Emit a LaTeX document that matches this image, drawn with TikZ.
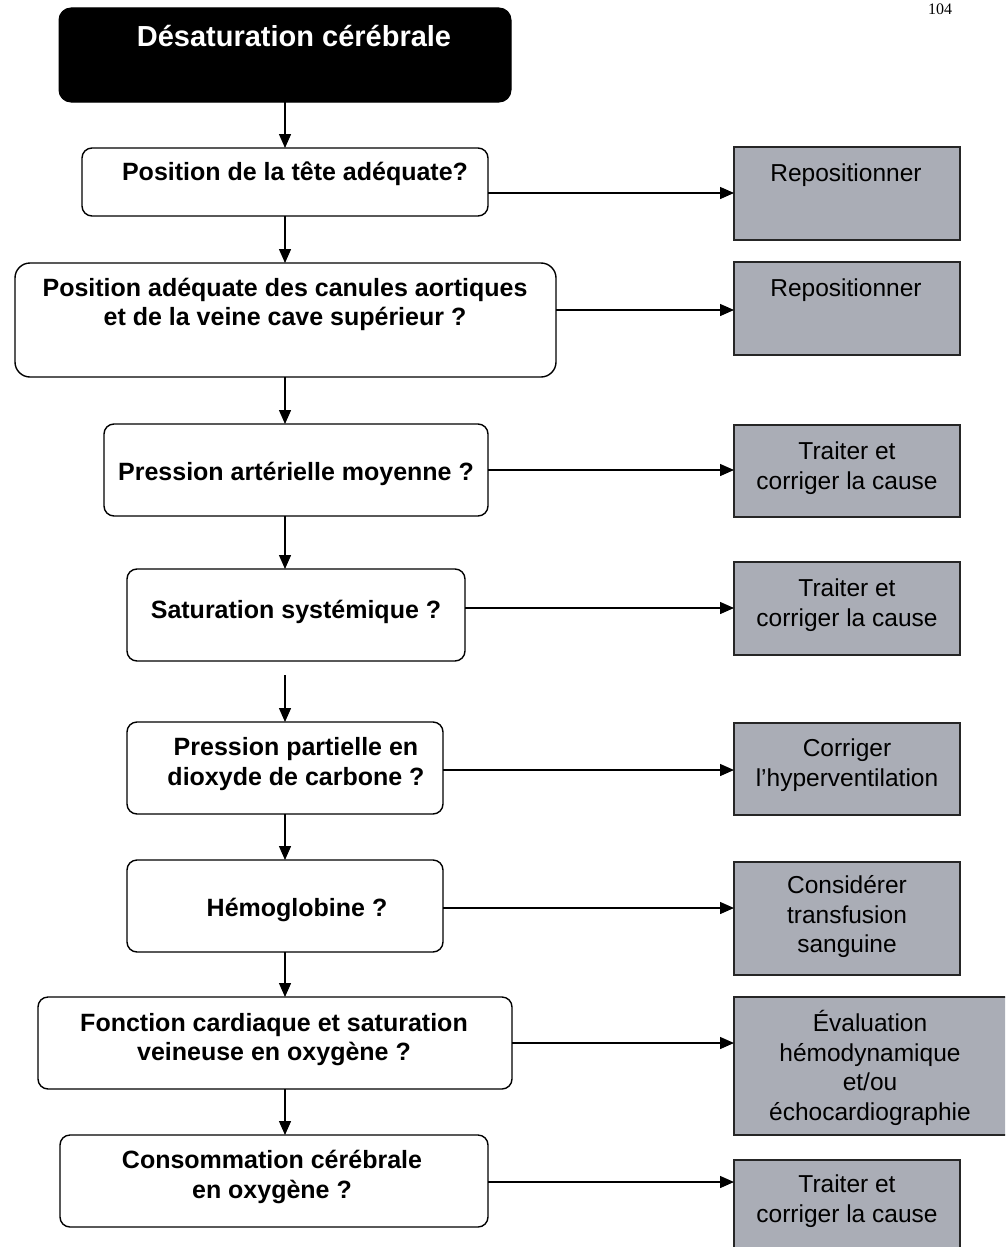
\documentclass[tikz,border=0pt]{standalone}
\usepackage{fontspec}
\setmainfont{Liberation Sans}
\newfontfamily\pagefont{Liberation Serif}
\usetikzlibrary{arrows.meta}
\definecolor{boxgray}{RGB}{170,173,182}
\begin{document}
\begin{tikzpicture}[x=1pt,y=-1pt,
  start/.style={draw=black, fill=black, rounded corners=12pt, line width=1pt,
    inner sep=0pt, outer sep=0pt},
  question/.style={draw=black, fill=white, rounded corners=10pt, line width=1.4pt,
    inner sep=0pt, outer sep=0pt},
  action/.style={draw=black!85, fill=boxgray, line width=1.8pt,
    inner sep=0pt, outer sep=0pt},
  ttext/.style={font=\fontsize{29}{33}\selectfont\bfseries, text=white, inner sep=0pt},
  qtext/.style={font=\fontsize{25}{29.5}\selectfont\bfseries, align=center, inner sep=0pt},
  atext/.style={font=\fontsize{24.5}{29.5}\selectfont, align=center, inner sep=0pt},
  flow/.style={line width=1.4pt, -{Triangle[length=14pt,width=12pt]}}]

\useasboundingbox (0,0) rectangle (1005,1247);
\clip (0,0) rectangle (1005,1247);

% page number
\node[font=\pagefont\fontsize{16}{18}\selectfont, anchor=base, inner sep=0pt] (pg) at (940,15) {104};

% start box
\node[start, minimum width=452pt, minimum height=94pt] (title) at (285,55) {};
\node[ttext] (titletxt) at (294,36) {Désaturation cérébrale};

% question boxes
\node[question, minimum width=406pt, minimum height=68pt] (q1) at (285,182) {};
\node[question, rounded corners=15pt, minimum width=541pt, minimum height=114pt] (q2) at (285.5,320) {};
\node[question, minimum width=384pt, minimum height=92pt] (q3) at (296,470) {};
\node[question, minimum width=338pt, minimum height=92pt] (q4) at (296,615) {};
\node[question, minimum width=316pt, minimum height=92pt] (q5) at (285,768) {};
\node[question, minimum width=316pt, minimum height=92pt] (q6) at (285,906) {};
\node[question, minimum width=474pt, minimum height=92pt] (q7) at (275,1043) {};
\node[question, minimum width=428pt, minimum height=92pt] (q8) at (274,1181) {};

\node[qtext] (q1txt) at (295,174) {Position de la tête adéquate?};
\node[qtext] (q2txt) at (285,304.5) {Position adéquate des canules aortiques\\et de la veine cave supérieur ?};
\node[qtext] (q3txt) at (296,474) {Pression artérielle moyenne ?};
\node[qtext] (q4txt) at (296,612) {Saturation systémique ?};
\node[qtext] (q5txt) at (296,764) {Pression partielle en\\dioxyde de carbone ?};
\node[qtext] (q6txt) at (297,910) {Hémoglobine ?};
\node[qtext] (q7txt) at (274,1039.5) {Fonction cardiaque et saturation\\veineuse en oxygène ?};
\node[qtext] (q8txt) at (272,1177) {Consommation cérébrale\\en oxygène ?};

% action boxes
\node[action, minimum width=226pt, minimum height=93pt] (a1) at (847,193.5) {};
\node[action, minimum width=226pt, minimum height=93pt] (a2) at (847,308.5) {};
\node[action, minimum width=226pt, minimum height=92pt] (a3) at (847,471) {};
\node[action, minimum width=226pt, minimum height=93pt] (a4) at (847,608.5) {};
\node[action, minimum width=226pt, minimum height=92pt] (a5) at (847,769) {};
\node[action, minimum width=226pt, minimum height=113pt] (a6) at (847,918.5) {};
\node[action, minimum width=278pt, minimum height=138pt] (a7) at (873,1066) {};
\node[action, minimum width=226pt, minimum height=100pt] (a8) at (847,1210) {};

\node[atext] (a1txt) at (846,175) {Repositionner};
\node[atext] (a2txt) at (846,290) {Repositionner};
\node[atext] (a3txt) at (847,468) {Traiter et\\corriger la cause};
\node[atext] (a4txt) at (847,605) {Traiter et\\corriger la cause};
\node[atext] (a5txt) at (847,765) {Corriger\\l’hyperventilation};
\node[atext] (a6txt) at (847,917) {Considérer\\transfusion\\sanguine};
\node[atext] (a7txt) at (870,1068) {Évaluation\\hémodynamique\\et/ou\\échocardiographie};
\node[atext] (a8txt) at (847,1201) {Traiter et\\corriger la cause};

% main vertical flow
\coordinate (spine) at (285,0);
\coordinate (q4out) at (285,675);
\draw[flow] (title.south -| spine) -- (q1.north -| spine);
\draw[flow] (q1.south -| spine) -- (q2.north -| spine);
\draw[flow] (q2.south -| spine) -- (q3.north -| spine);
\draw[flow] (q3.south -| spine) -- (q4.north -| spine);
\draw[flow] (q4out) -- (q5.north -| spine);
\draw[flow] (q5.south -| spine) -- (q6.north -| spine);
\draw[flow] (q6.south -| spine) -- (q7.north -| spine);
\draw[flow] (q7.south -| spine) -- (q8.north -| spine);

% branches to the actions
\coordinate (h1) at (0,193);
\coordinate (h2) at (0,310);
\coordinate (h3) at (0,470);
\coordinate (h4) at (0,608);
\coordinate (h5) at (0,770);
\coordinate (h6) at (0,908);
\coordinate (h7) at (0,1043);
\coordinate (h8) at (0,1182);
\draw[flow] (q1.east |- h1) -- (a1.west |- h1);
\draw[flow] (q2.east |- h2) -- (a2.west |- h2);
\draw[flow] (q3.east |- h3) -- (a3.west |- h3);
\draw[flow] (q4.east |- h4) -- (a4.west |- h4);
\draw[flow] (q5.east |- h5) -- (a5.west |- h5);
\draw[flow] (q6.east |- h6) -- (a6.west |- h6);
\draw[flow] (q7.east |- h7) -- (a7.west |- h7);
\draw[flow] (q8.east |- h8) -- (a8.west |- h8);
\end{tikzpicture}
\end{document}
